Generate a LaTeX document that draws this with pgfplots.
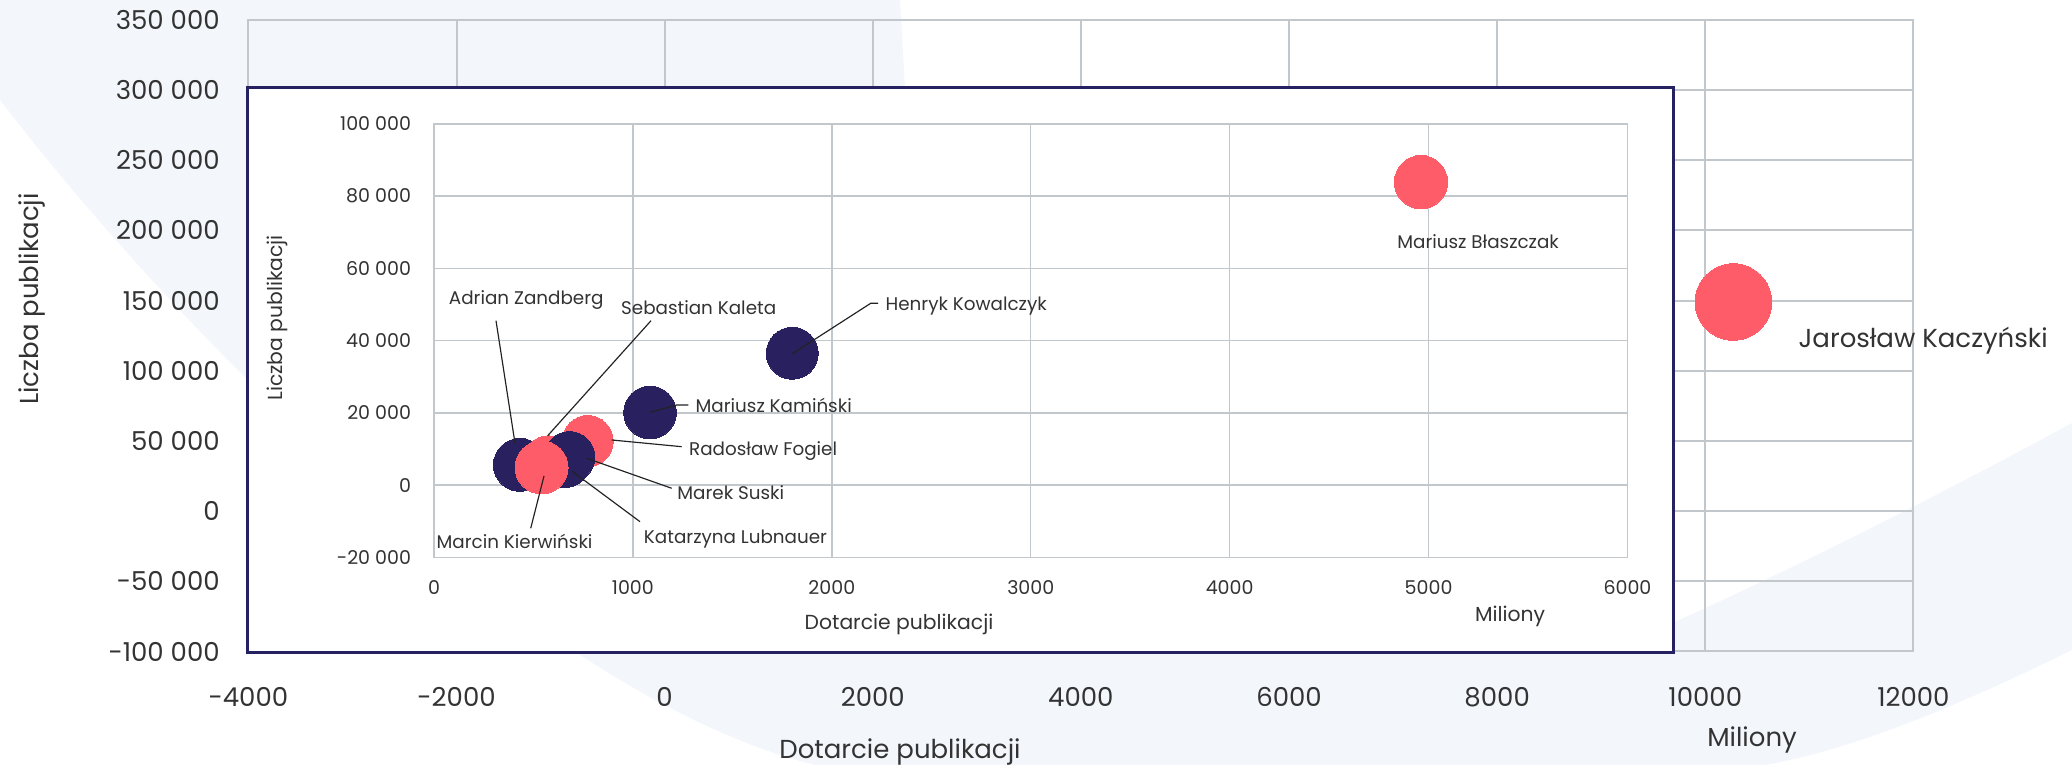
\documentclass[border=0pt]{standalone}
\usepackage{fontspec}
\setmainfont{Poppins}
\usepackage{pgfplots}
\pgfplotsset{compat=1.18}
\definecolor{navy}{HTML}{28205F}
\definecolor{pinkb}{HTML}{FF5C6A}
\definecolor{gridc}{HTML}{C2C7CC}
\definecolor{txt}{HTML}{333333}
\definecolor{pale}{HTML}{F3F7FC}
\definecolor{boxc}{HTML}{262262}
\definecolor{lead}{HTML}{222222}
\newcommand{\bubble}[4]{\addplot[only marks, mark=*, color=#1, line width=0pt, mark size=#4pt, mark options={solid, draw=#1, fill=#1, line width=0pt}] coordinates {(#2,#3)};}
\begin{document}
\begin{tikzpicture}
\begin{scope}[x=0.3pt,y=0.3pt]
\useasboundingbox (0,0) rectangle (2072,765);
\fill[pale] (0,765) -- (900,765) -- (905,{765-88}) -- (905,{765-400}) -- (1600,{765-640}) -- (1672,{765-623})
  .. controls (1780,{765-575}) and (1930,{765-500}) .. (2072,{765-423}) -- (2072,{765-650})
  .. controls (1950,{765-710}) and (1850,{765-750}) .. (1765,0) -- (815,0)
  .. controls (550,{765-700}) and (200,{765-360}) .. (0,{765-100}) -- cycle;
\end{scope}

\begin{axis}[
  at={(74.52pt,34.05pt)}, anchor=south west, scale only axis,
  width=499.5pt, height=189.51pt,
  xmin=-4000, xmax=12000, ymin=-100000, ymax=350000,
  xtick={-4000,-2000,...,12000}, ytick={-100000,-50000,...,350000},
  grid=major, grid style={gridc, line width=0.6pt},
  axis line style={gridc, line width=0.6pt},
  major tick length=0pt,
  tick label style={font=\fontsize{7.8}{9}\selectfont, text=txt, inner sep=0pt},
  /pgf/number format/assume math mode=true,
  /pgf/number format/fixed,
  xticklabel style={/pgf/number format/fixed, /pgf/number format/1000 sep={}},
  yticklabel style={/pgf/number format/fixed, /pgf/number format/1000 sep={\ }},
  xticklabel shift=10.5pt, yticklabel shift=8.4pt,
  scaled ticks=false, clip=false,
]
\bubble{pinkb}{10270}{149000}{11.5}
\end{axis}

\draw[boxc, line width=0.9pt, fill=white] (74.1pt,33.6pt) rectangle (501.9pt,203.1pt);

\begin{axis}[
  at={(130.2pt,62.31pt)}, anchor=south west, scale only axis,
  width=358.05pt, height=130pt,
  xmin=0, xmax=6000, ymin=-20000, ymax=100000,
  xtick={0,1000,...,6000}, ytick={-20000,0,...,100000},
  grid=major, grid style={gridc, line width=0.45pt},
  axis line style={gridc, line width=0.45pt},
  major tick length=0pt,
  tick label style={font=\fontsize{5.7}{7}\selectfont, text=txt, inner sep=0pt},
  /pgf/number format/assume math mode=true,
  /pgf/number format/fixed,
  xticklabel style={/pgf/number format/fixed, /pgf/number format/1000 sep={}},
  yticklabel style={/pgf/number format/fixed, /pgf/number format/1000 sep={\ }},
  xticklabel shift=6.8pt, yticklabel shift=6.7pt,
  scaled ticks=false, clip=false,
]
\bubble{navy}{432}{5600}{7.95}
\bubble{pinkb}{575}{6450}{7.8}
\bubble{pinkb}{773}{12200}{7.65}
\bubble{navy}{659}{6400}{7.65}
\bubble{navy}{681}{7750}{7.65}
\bubble{pinkb}{541}{4900}{7.95}
\bubble{navy}{1086}{20100}{7.9}
\bubble{navy}{1801}{36500}{7.8}
\bubble{pinkb}{4962}{83900}{8.0}
\end{axis}

\begin{scope}[x=0.3pt,y=0.3pt]
\begin{scope}[lead, line width=0.35pt]
\draw (792,{765-354}) -- (870.7,{765-303.3}) -- (878,{765-303.3});
\draw (651,{765-320.7}) -- (547.7,{765-435.7});
\draw (496,{765-320.7}) -- (515,{765-443.3});
\draw (650,{765-412.3}) -- (676.7,{765-405}) -- (688.3,{765-405});
\draw (611.7,{765-440}) -- (681.7,{765-446.7});
\draw (671.7,{765-488.3}) -- (586.7,{765-458.3});
\draw (640,{765-521.7}) -- (571.7,{765-471});
\draw (530.7,{765-528.3}) -- (544,{765-476});
\end{scope}
\begin{scope}[every node/.style={inner sep=0pt, text=txt, font=\fontsize{5.5}{6.5}\selectfont, anchor=base west}]
\node at (1396.7,{765-248.3}) {Mariusz Błaszczak};
\node at (885,{765-311}) {Henryk Kowalczyk};
\node at (620.5,{765-315}) {Sebastian Kaleta};
\node at (448.3,{765-304.3}) {Adrian Zandberg};
\node at (695,{765-412.7}) {Mariusz Kamiński};
\node at (688.5,{765-456}) {Radosław Fogiel};
\node at (676.7,{765-500}) {Marek Suski};
\node at (643.3,{765-544}) {Katarzyna Lubnauer};
\node at (436,{765-548.3}) {Marcin Kierwiński};
\end{scope}
\begin{scope}[every node/.style={inner sep=0pt, text=txt, font=\fontsize{6.1}{7}\selectfont, anchor=base}]
\node[rotate=90] at (282,{765-318}) {Liczba publikacji};
\node at (899,{765-629.5}) {Dotarcie publikacji};
\node at (1510,{765-621.7}) {Miliony};
\end{scope}
\begin{scope}[every node/.style={inner sep=0pt, text=txt, font=\fontsize{7.8}{9}\selectfont, anchor=base}]
\node[rotate=90] at (38.5,{765-299}) {Liczba publikacji};
\node at (900,{765-759}) {Dotarcie publikacji};
\node at (1752,{765-746.7}) {Miliony};
\node[anchor=base west] at (1798,{765-348}) {Jarosław Kaczyński};
\end{scope}
\end{scope}
\end{tikzpicture}
\end{document}
